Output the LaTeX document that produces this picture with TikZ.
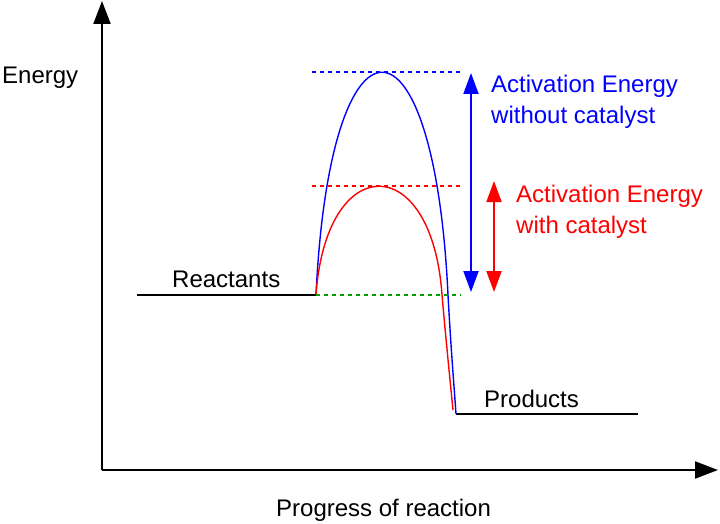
\documentclass[tikz,border=0pt]{standalone}
\usepackage{fontspec}
\setmainfont{Liberation Sans}
\usetikzlibrary{arrows.meta}
\definecolor{dgreen}{RGB}{0,160,0}
\begin{document}
\begin{tikzpicture}[x=1pt,y=-1pt,
  txt/.style={anchor=base west,inner sep=0pt,font=\fontsize{24}{31}\selectfont},
  axis/.style={line width=2pt,-{Triangle[length=23pt,width=17pt]}},
  level/.style={line width=1.6pt},
  curve/.style={line width=1.4pt},
  guide/.style={line width=1.6pt,dash pattern=on 4pt off 4pt},
  gap/.style={line width=2pt,{Triangle[length=21pt,width=15pt]}-{Triangle[length=21pt,width=15pt]}}]
\useasboundingbox (0,0) rectangle (720,524);
% axes
\coordinate (O) at (102,470);
\coordinate (ytop) at (102,1);
\coordinate (xend) at (718,470);
\draw[axis] (O) -- (ytop);
\draw[axis] (O) -- (xend);
% levels
\coordinate (r0) at (137,295);
\coordinate (r1) at (316,295);
\coordinate (p0) at (456,414);
\coordinate (p1) at (638,414);
\draw[level] (r0) -- (r1);
\draw[level] (p0) -- (p1);
% curves
\draw[curve,blue] (r1) .. controls (330,-2) and (434,-2) .. (448,295)
  .. controls (451,350) and (454,385) .. (p0);
\draw[curve,red] (r1) .. controls (326,150) and (432,150) .. (442,295)
  .. controls (446,340) and (450,380) .. (453,410);
% guide lines
\coordinate (b0) at (312,72);
\coordinate (b1) at (461,72);
\coordinate (c0) at (312,186);
\coordinate (c1) at (462,186);
\coordinate (g1) at (461,295);
\draw[guide,blue] (b0) -- (b1);
\draw[guide,red] (c0) -- (c1);
\draw[guide,dgreen] (r1) -- (g1);
% activation energy arrows
\coordinate (ba) at (471,73);
\coordinate (bb) at (471,292);
\coordinate (ra) at (494,181);
\coordinate (rb) at (494,292);
\draw[gap,blue] (ba) -- (bb);
\draw[gap,red] (ra) -- (rb);
% labels
\node[txt] (energy) at (2,84) {Energy};
\node[txt] (react) at (172,287) {Reactants};
\node[txt] (prod) at (484,407) {Products};
\node[txt] (prog) at (276,516) {Progress of reaction};
\node[txt,blue,align=left] (aeb) at (491,93) {Activation Energy};
\node[txt,blue] (aeb2) at (491,124) {without catalyst};
\node[txt,red] (aer) at (516,202) {Activation Energy};
\node[txt,red] (aer2) at (516,233) {with catalyst};
\end{tikzpicture}
\end{document}
